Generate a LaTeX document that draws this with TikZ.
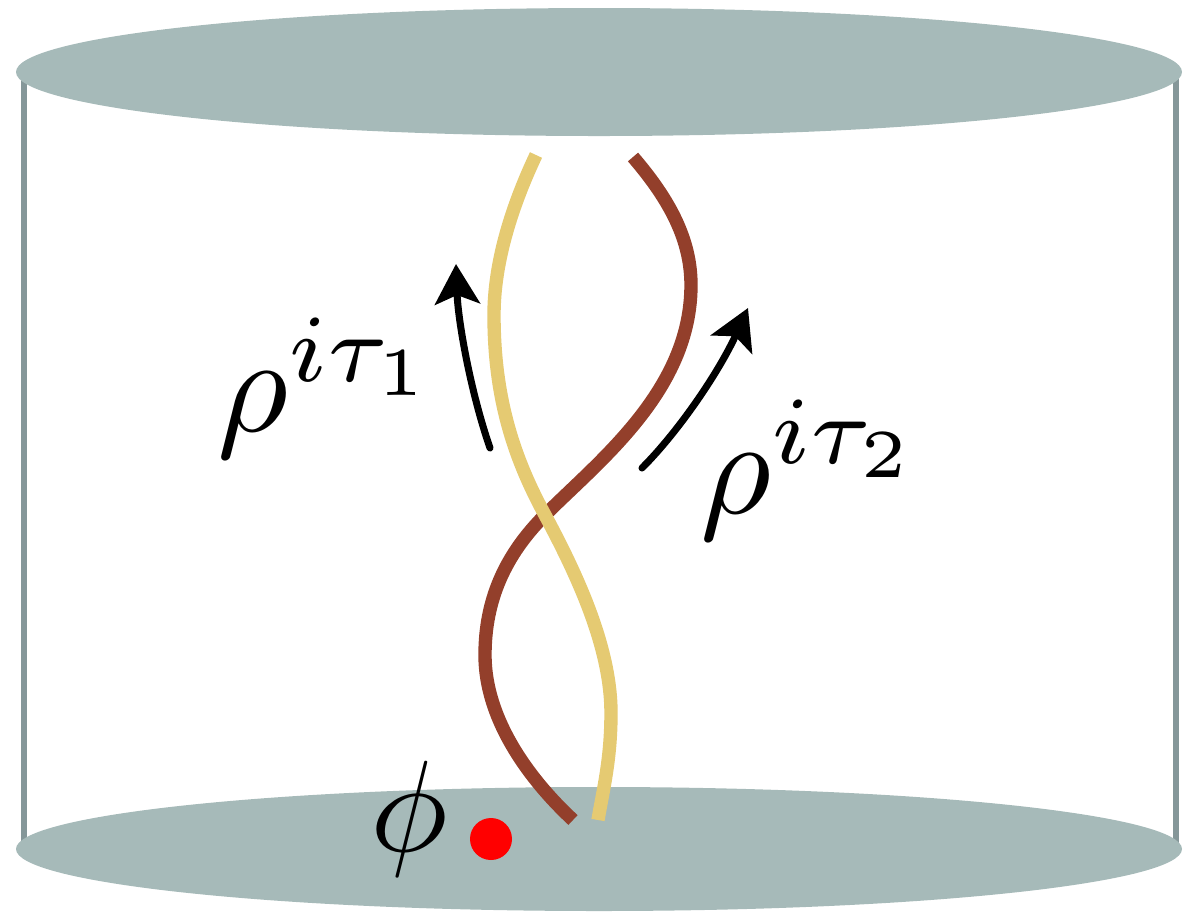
\documentclass[tikz,border=0pt]{standalone}
\usepackage{tikz}
\usetikzlibrary{arrows.meta}
\usepackage{amsmath}

\definecolor{diskgray}{HTML}{A6BAB9}
\definecolor{wallgray}{HTML}{859799}
\definecolor{strandyellow}{HTML}{E5CA72}
\definecolor{strandbrown}{HTML}{933F2B}

\begin{document}
\begin{tikzpicture}[x=0.01cm, y=-0.01cm,
  wall/.style={draw=wallgray, line width=1.7pt},
  disk/.style={fill=diskgray},
  strand/.style={line width=3.8pt},
  flow/.style={black, line width=2pt, line cap=round, -{Stealth[length=4mm, width=4.5mm, inset=0.9mm]}}]

  \useasboundingbox (0,0) rectangle (1196,914);

  % cylinder walls and disks
  \draw[wall] (24,72) -- (24,849);
  \draw[wall] (1176,72) -- (1176,849);

  \fill[disk] (599,72) circle [x radius=583, y radius=64];
  \fill[disk] (599,849) circle [x radius=583, y radius=62];

  % the two strands
  \draw[strand, strandbrown] (633,157) .. controls (670,200) and (691,240) .. (691,285)
    .. controls (691,390) and (600,460) .. (545,515)
    .. controls (505,555) and (485,600) .. (485,655)
    .. controls (485,720) and (530,780) .. (573,820);

  \draw[strand, strandyellow] (536,155) .. controls (510,210) and (494,265) .. (494,315)
    .. controls (494,400) and (515,460) .. (545,515)
    .. controls (580,580) and (611,650) .. (611,713)
    .. controls (611,760) and (603,790) .. (598,820);

  % modular flows
  \coordinate (flowAstart) at (490,448);
  \coordinate (flowAend) at (456,264);
  \coordinate (flowBstart) at (642,468);
  \coordinate (flowBend) at (748,308);

  \draw[flow] (flowAstart) .. controls (470,390) and (458,320) .. (flowAend);
  \draw[flow] (flowBstart) .. controls (680,430) and (720,370) .. (flowBend);

  \node[scale=3.9, inner sep=0pt] (rhoA) at (328,388) {$\rho^{i\tau_1}$};
  \node[scale=3.9, inner sep=0pt] (rhoB) at (811,470) {$\rho^{i\tau_2}$};

  % operator insertion
  \node[scale=3.7, inner sep=0pt] (phi) at (409,819) {$\phi$};
  \fill[red] (491,839) circle [radius=21];

\end{tikzpicture}
\end{document}
